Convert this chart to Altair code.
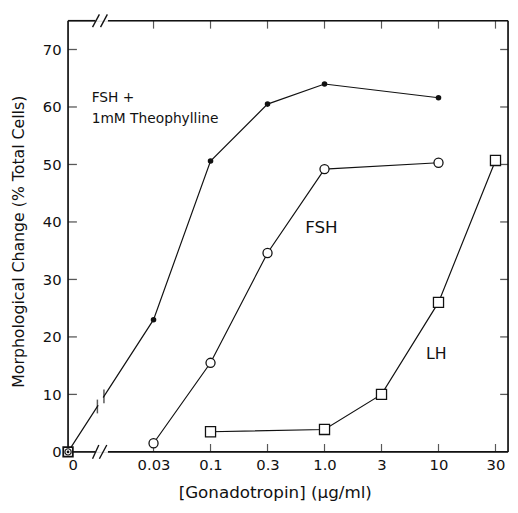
import altair as alt
import pandas as pd

# ---------------- data ----------------
dose_labels = ["0", "0.03", "0.1", "0.3", "1.0", "3", "10", "30"]

theo_doses = ["0", "0.03", "0.1", "0.3", "1.0", "10"]
theo_vals = [0, 23.0, 50.6, 60.5, 64.0, 61.6]

fsh_doses = ["0.03", "0.1", "0.3", "1.0", "10"]
fsh_vals = [1.5, 15.5, 34.6, 49.2, 50.3]

lh_doses = ["0.1", "1.0", "3", "10", "30"]
lh_vals = [3.5, 3.9, 10.0, 26.0, 50.7]

y_ticks = [0, 10, 20, 30, 40, 50, 60, 70]

# ---------------- layout of the broken dose axis ----------------
ZERO_POS = -1.5          # "0" sits 1.5 steps left of 0.03 (axis break)
X_MAX = 6.22
Y_MAX = 75
W, H = 447, 438


def pos(d):
    i = dose_labels.index(d)
    return ZERO_POS if i == 0 else float(i - 1)


FONT = "DejaVu Sans"
INK = "#111111"

xs = alt.Scale(domain=[ZERO_POS, X_MAX], nice=False, zero=False)
ys = alt.Scale(domain=[0, Y_MAX], nice=False, zero=False)

tick_pos = [pos(d) for d in dose_labels]
label_expr = " : ".join(
    f"abs(datum.value - ({p})) < 0.001 ? '{l}'" for p, l in zip(tick_pos, dose_labels)
) + " : ''"

AX = alt.Axis(
    values=tick_pos, labelExpr=label_expr, ticks=False, domain=False, grid=False,
    labelFont=FONT, labelFontSize=15, labelColor=INK, labelPadding=6,
    title="[Gonadotropin] (\u03bcg/ml)", titleFont=FONT, titleFontSize=17,
    titleFontWeight="normal", titleColor=INK, titleX=210, titleY=46,
    titleAlign="center", titleBaseline="alphabetic")
AY = alt.Axis(
    values=y_ticks, ticks=False, domain=False, grid=False, labelFont=FONT,
    labelFontSize=15, labelColor=INK, labelPadding=7,
    title="Morphological Change (% Total Cells)", titleFont=FONT, titleFontSize=16,
    titleFontWeight="normal", titleColor=INK, titleX=-50, titleY=224,
    titleAlign="center", titleBaseline="middle", titleAngle=270)


def X(field="x"):
    return alt.X(f"{field}:Q", scale=xs, axis=AX)


def Y(field="y"):
    return alt.Y(f"{field}:Q", scale=ys, axis=AY)


# ---------------- frame ----------------
break_lo, break_hi = -1.02, -0.80
frame_df = pd.DataFrame({
    "x": [ZERO_POS, X_MAX, ZERO_POS, break_hi, ZERO_POS, break_hi],
    "x2": [ZERO_POS, X_MAX, break_lo, X_MAX, break_lo, X_MAX],
    "y": [0, 0, Y_MAX, Y_MAX, 0, 0],
    "y2": [Y_MAX, Y_MAX, Y_MAX, Y_MAX, 0, 0],
})
frame = alt.Chart(frame_df).mark_rule(color=INK, strokeWidth=1.7).encode(
    x=X(), x2="x2:Q", y=Y(), y2="y2:Q")

# slashes marking the axis break (top and bottom)
slash_df = pd.DataFrame({
    "x": [-1.07, -0.95, -1.07, -0.93],
    "x2": [-0.96, -0.82, -0.95, -0.81],
    "y": [-1.2, -1.2, Y_MAX - 1.1, Y_MAX - 1.1],
    "y2": [1.2, 1.2, Y_MAX + 1.1, Y_MAX + 1.1],
})
slashes = alt.Chart(slash_df).mark_rule(color=INK, strokeWidth=1.4).encode(
    x=X(), x2="x2:Q", y=Y(), y2="y2:Q")

# inward ticks
bt = pd.DataFrame({"x": tick_pos[1:], "y": [0] * (len(tick_pos) - 1)})
tt = pd.DataFrame({"x": tick_pos[1:], "y": [Y_MAX] * (len(tick_pos) - 1)})
lt = pd.DataFrame({"x": [ZERO_POS] * (len(y_ticks) - 1), "y": y_ticks[1:]})
rt = pd.DataFrame({"x": [X_MAX] * (len(y_ticks) - 1), "y": y_ticks[1:]})
bottom_ticks = alt.Chart(bt).mark_tick(orient="vertical", size=8, thickness=1.2,
                                        color=INK, yOffset=-4).encode(x=X(), y=Y())
top_ticks = alt.Chart(tt).mark_tick(orient="vertical", size=8, thickness=1.2,
                                     color=INK, yOffset=4).encode(x=X(), y=Y())
left_ticks = alt.Chart(lt).mark_tick(orient="horizontal", size=9, thickness=1.3,
                                      color=INK, xOffset=4.5).encode(x=X(), y=Y())
right_ticks = alt.Chart(rt).mark_tick(orient="horizontal", size=8, thickness=1.3,
                                       color=INK, xOffset=-4).encode(x=X(), y=Y())

# ---------------- series ----------------
theo_df = pd.DataFrame({"x": [pos(d) for d in theo_doses], "y": theo_vals})
fsh_df = pd.DataFrame({"x": [pos(d) for d in fsh_doses], "y": fsh_vals})
lh_df = pd.DataFrame({"x": [pos(d) for d in lh_doses], "y": lh_vals})

line_kw = dict(color=INK, strokeWidth=1.2)
theo_line = alt.Chart(theo_df).mark_line(**line_kw).encode(x=X(), y=Y())
fsh_line = alt.Chart(fsh_df).mark_line(**line_kw).encode(x=X(), y=Y())
lh_line = alt.Chart(lh_df).mark_line(**line_kw).encode(x=X(), y=Y())

# break marks on the first FSH + theophylline segment
x0, y0 = theo_df.x[0], theo_df.y[0]
x1, y1 = theo_df.x[1], theo_df.y[1]
bk = [-0.985, -0.87]
bk_df = pd.DataFrame({"x": bk, "y": [y0 + (b - x0) / (x1 - x0) * (y1 - y0) for b in bk]})
gap_df = pd.DataFrame({"x": [bk[0] + 0.015], "x2": [bk[1] - 0.015],
                       "y": [bk_df.y[0] + 0.2], "y2": [bk_df.y[1] - 0.2]})
gap = alt.Chart(gap_df).mark_rule(color="white", strokeWidth=4).encode(
    x=X(), x2="x2:Q", y=Y(), y2="y2:Q")
bk_marks = alt.Chart(bk_df).mark_tick(orient="vertical", size=14, thickness=1.5,
                                       color=INK).encode(x=X(), y=Y())

theo_pts = alt.Chart(theo_df[theo_df.x > ZERO_POS]).mark_point(
    shape="circle", filled=True, color=INK, size=32, opacity=1).encode(x=X(), y=Y())
fsh_pts = alt.Chart(fsh_df).mark_point(
    shape="circle", filled=True, fill="white", stroke=INK, strokeWidth=1.3,
    size=85, opacity=1).encode(x=X(), y=Y())
lh_pts = alt.Chart(lh_df).mark_point(
    shape="square", filled=True, fill="white", stroke=INK, strokeWidth=1.3,
    size=105, opacity=1).encode(x=X(), y=Y())

# combined marker at the origin (all three series at zero dose)
origin_df = pd.DataFrame({"x": [ZERO_POS], "y": [0]})
o_sq = alt.Chart(origin_df).mark_point(shape="square", filled=True, fill="white",
                                       stroke=INK, strokeWidth=1.8, size=95,
                                       opacity=1).encode(x=X(), y=Y())
o_ci = alt.Chart(origin_df).mark_point(shape="circle", filled=False, stroke=INK,
                                       strokeWidth=1.2, size=40, opacity=1).encode(x=X(), y=Y())
o_dot = alt.Chart(origin_df).mark_point(shape="circle", filled=True, color=INK,
                                        size=8, opacity=1).encode(x=X(), y=Y())

# ---------------- annotations ----------------
ann_text = ["FSH +", "1mM Theophylline", "FSH", "LH"]
ann_x = [-1.085, -1.085, 2.66, 4.78]
ann_y = [61.5, 57.9, 38.9, 17.1]
ann_size = [14, 14, 17, 16]
ann_df = pd.DataFrame({"t": ann_text, "x": ann_x, "y": ann_y, "s": ann_size})
ann = alt.Chart(ann_df).mark_text(align="left", baseline="middle", font=FONT,
                                  color=INK).encode(
    x=X(), y=Y(), text="t:N", size=alt.Size("s:Q", scale=None, legend=None))

chart = alt.layer(
    frame, slashes, bottom_ticks, top_ticks, left_ticks, right_ticks,
    theo_line, fsh_line, lh_line, gap, bk_marks,
    theo_pts, fsh_pts, lh_pts, o_sq, o_ci, o_dot, ann,
).properties(
    width=W, height=H,
    autosize=alt.AutoSizeParams(type="none"),
    padding={"left": 61, "top": 9, "right": 2, "bottom": 50},
).configure_view(stroke=None).configure(background="white")

chart.save("out.html", embed_options={"renderer": "svg", "actions": False})
